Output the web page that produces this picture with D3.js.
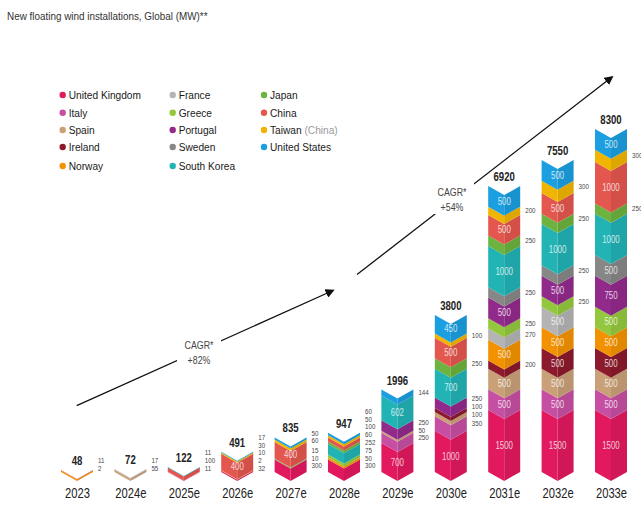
<!DOCTYPE html>
<html>
<head>
<meta charset="utf-8">
<script src="https://cdn.jsdelivr.net/npm/d3@7"></script>
<style>
  html, body { margin: 0; padding: 0; background: #fff; }
  svg { display: block; }
</style>
</head>
<body>
<svg id="chart" width="641" height="518"></svg>
<script>
// Years shown on the x axis
const years = ["2023", "2024e", "2025e", "2026e", "2027e", "2028e", "2029e", "2030e", "2031e", "2032e", "2033e"];

// Countries in stacking order (bottom to top)
const countries = ["United Kingdom", "Italy", "Spain", "Ireland", "Norway", "France", "Greece",
                   "Portugal", "Sweden", "South Korea", "Japan", "China", "Taiwan", "United States"];

const countryColors = ["#e2195e", "#c64fa3", "#c9a077", "#8c1a2c", "#f39200", "#b4b4b4", "#93c83e",
                       "#922a8c", "#878787", "#22b3b5", "#6cb33f", "#e4574f", "#f0b500", "#1b9fe0"];

// New floating wind installations per country and year (MW)
const unitedKingdom = [2, 0, 11, 32, 300, 300, 700, 1000, 1500, 1500, 1500];
const italy         = [0, 0, 0, 0, 0, 0, 250, 350, 500, 500, 500];
const spain         = [0, 55, 0, 2, 0, 0, 50, 100, 500, 500, 500];
const ireland       = [0, 0, 0, 0, 0, 0, 0, 100, 200, 500, 500];
const norway        = [35, 0, 0, 10, 0, 50, 0, 0, 500, 500, 500];
const france        = [0, 17, 0, 0, 0, 0, 0, 0, 270, 500, 0];
const greece        = [0, 0, 0, 0, 10, 75, 0, 0, 250, 250, 500];
const portugal      = [0, 0, 0, 0, 0, 0, 250, 250, 500, 500, 750];
const sweden        = [0, 0, 0, 0, 0, 0, 0, 0, 250, 250, 500];
const southKorea    = [0, 0, 0, 0, 0, 252, 602, 700, 1000, 1000, 1000];
const japan         = [0, 0, 0, 0, 15, 60, 0, 250, 250, 250, 250];
const china         = [11, 0, 100, 400, 400, 100, 0, 500, 500, 500, 1000];
const taiwan        = [0, 0, 0, 30, 60, 50, 0, 100, 200, 300, 300];
const unitedStates  = [0, 0, 11, 17, 50, 60, 144, 450, 500, 500, 500];

const seriesValues = [unitedKingdom, italy, spain, ireland, norway, france, greece,
                      portugal, sweden, southKorea, japan, china, taiwan, unitedStates];

// Segments that carry no value label
const unlabeledSegments = [["2023", "Norway"]];

// Legend layout: three columns of country names
const legendColumns = [
  ["United Kingdom", "Italy", "Spain", "Ireland", "Norway"],
  ["France", "Greece", "Portugal", "Sweden", "South Korea"],
  ["Japan", "China", "Taiwan", "United States"]
];

const cagrLabels = [["CAGR*", "+82%"], ["CAGR*", "+54%"]];

// ---- build table for d3.stack ----
const table = years.map((yr, i) => {
  const row = { year: yr };
  countries.forEach((c, k) => { row[c] = seriesValues[k][i]; });
  return row;
});
const stacked = d3.stack().keys(countries)(table);
const totals = table.map(r => d3.sum(countries, c => r[c]));

const color = d3.scaleOrdinal().domain(countries).range(countryColors);

const svg = d3.select("#chart");
const FONT = "'Liberation Sans', Arial, sans-serif";

// Condensed text: regular face squeezed horizontally
function label(parent, px, py, str, o) {
  return parent.append("text")
    .attr("transform", `translate(${px},${py}) scale(${o.sx || 1},1)`)
    .attr("text-anchor", o.anchor || "start")
    .attr("dy", o.dy || null)
    .attr("font-family", FONT)
    .attr("font-size", o.size)
    .attr("font-weight", o.weight || null)
    .attr("fill", o.fill || "#222")
    .attr("fill-opacity", o.opacity == null ? null : o.opacity)
    .text(str);
}

const x = d3.scalePoint().domain(years).range([77, 611]);
const y = d3.scaleLinear().domain([0, 8300]).range([472, 129]);
const barW = 32;
const notch = 9;

// Title
label(svg, 7, 20, "New floating wind installations, Global  (MW)**", { size: 11.5, sx: 0.86, fill: "#333" });

// Legend
const legendX = [62.7, 172.7, 264];
const legendY = [95, 112.7, 130, 147, 166];
const legend = svg.append("g");
legendColumns.forEach((col, ci) => {
  col.forEach((name, ri) => {
    const g = legend.append("g").attr("transform", `translate(${legendX[ci]},${legendY[ri]})`);
    g.append("circle").attr("r", 3.2).attr("fill", color(name));
    const t = label(g, 6, 0, name, { size: 11.3, sx: 0.9, dy: "0.36em", fill: "#1a1a1a" });
    if (name === "Taiwan") {
      t.append("tspan").attr("fill", "#9a9a9a").text(" (China)");
    }
  });
});

// CAGR arrows
const arrows = [
  { x1: 76.7, y1: 405.7, x2: 333, y2: 290.5, tx: 199, ty: 345 },
  { x1: 357, y1: 274.5, x2: 612, y2: 77, tx: 452, ty: 192 }
];
svg.append("defs").append("marker")
  .attr("id", "arrowhead")
  .attr("viewBox", "0 0 10 10")
  .attr("refX", 8).attr("refY", 5)
  .attr("markerWidth", 7).attr("markerHeight", 7)
  .attr("orient", "auto")
  .append("path").attr("d", "M0,0 L10,5 L0,10 z").attr("fill", "#111");

arrows.forEach((a, i) => {
  svg.append("line")
    .attr("x1", a.x1).attr("y1", a.y1).attr("x2", a.x2).attr("y2", a.y2)
    .attr("stroke", "#111").attr("stroke-width", 1.3)
    .attr("marker-end", "url(#arrowhead)");
  svg.append("rect")
    .attr("x", a.tx - 22).attr("y", a.ty - 10).attr("width", 44).attr("height", 32)
    .attr("fill", "#fff");
  cagrLabels[i].forEach((s, j) => {
    label(svg, a.tx, a.ty + j * 15, s, { size: 10.5, sx: 0.84, anchor: "middle", dy: "0.35em", fill: "#444" });
  });
});

// Chevron bars
const bars = svg.append("g");
stacked.forEach(layer => {
  const c = color(layer.key);
  const dark = d3.color(c).darker(0.22).formatHex();
  layer.forEach((d, i) => {
    if (d[1] - d[0] <= 0) return;
    const xc = x(years[i]);
    const x0 = xc - barW / 2, x1 = xc + barW / 2;
    const yT = y(d[1]), yB = y(d[0]);
    bars.append("path")
      .attr("d", `M${x0},${yT} L${xc},${yT + notch} L${xc},${yB + notch} L${x0},${yB} Z`)
      .attr("fill", c);
    bars.append("path")
      .attr("d", `M${xc},${yT + notch} L${x1},${yT} L${x1},${yB} L${xc},${yB + notch} Z`)
      .attr("fill", dark);
  });
});

// Values inside large segments
const inside = svg.append("g");
stacked.forEach(layer => {
  layer.forEach((d, i) => {
    const v = d[1] - d[0];
    if (v < 400) return;
    label(inside, x(years[i]), (y(d[0]) + y(d[1])) / 2 + notch / 2, v,
      { size: 10.5, sx: 0.75, anchor: "middle", dy: "0.35em", fill: "#fff", opacity: 0.78 });
  });
});

// Values of thinner segments, listed to the right of each bar
const side = svg.append("g");
const minGap = 7.8;
const isUnlabeled = (yr, key) => unlabeledSegments.some(([a, b]) => a === yr && b === key);
years.forEach((yr, i) => {
  const items = [];
  stacked.forEach(layer => {
    const d = layer[i];
    const v = d[1] - d[0];
    if (v > 0 && v < 400 && !isUnlabeled(yr, layer.key)) items.push({ v, pos: (y(d[0]) + y(d[1])) / 2 });
  });
  let prev = Infinity;
  items.forEach(it => {
    it.pos = Math.min(it.pos, 468.5, prev - minGap);
    prev = it.pos;
  });
  items.forEach(it => {
    label(side, x(yr) + barW / 2 + 5, it.pos, it.v, { size: 7.2, sx: 0.86, dy: "0.35em", fill: "#444" });
  });
});

// Totals above bars
const totalsG = svg.append("g");
years.forEach((yr, i) => {
  label(totalsG, x(yr), y(totals[i]) - 5, totals[i], { size: 12, sx: 0.8, anchor: "middle", weight: "bold", fill: "#222" });
});

// Year axis labels
const xAxis = d3.axisBottom(x).tickSize(0).tickPadding(0);
const axisG = svg.append("g").attr("transform", "translate(0,488)").call(xAxis);
axisG.select(".domain").remove();
axisG.selectAll("text")
  .attr("transform", "scale(0.8,1)")
  .attr("font-family", FONT)
  .attr("font-size", 14)
  .attr("fill", "#222");
</script>
</body>
</html>
